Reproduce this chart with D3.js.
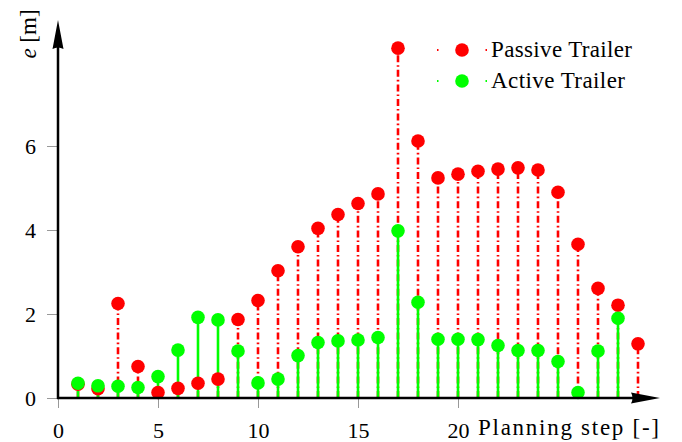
<!DOCTYPE html>
<html>
<head>
<meta charset="utf-8">
<script src="https://cdn.jsdelivr.net/npm/d3@7"></script>
<style>
  body { margin: 0; background: #fff; }
  svg text { font-family: "Liberation Serif", "Times New Roman", Times, serif !important; }
</style>
</head>
<body>
<script>
// planning steps and the two error series
var stepsPassive = d3.range(1, 30)
var passive = [0.33, 0.22, 2.25, 0.75, 0.13, 0.23, 0.35, 0.45, 1.87, 2.32,
               3.03, 3.60, 4.04, 4.37, 4.63, 4.86, 8.33, 6.12, 5.24, 5.33,
               5.40, 5.45, 5.48, 5.43, 4.90, 3.66, 2.61, 2.21, 1.29]
var stepsActive = d3.range(1, 29)
var active = [0.35, 0.29, 0.28, 0.25, 0.51, 1.14, 1.92, 1.86, 1.12, 0.36,
              0.45, 1.01, 1.32, 1.36, 1.38, 1.44, 3.98, 2.28, 1.40, 1.40,
              1.39, 1.25, 1.13, 1.13, 0.87, 0.13, 1.12, 1.90]
var xTicks = [0, 5, 10, 15, 20]
var yTicks = [0, 2, 4, 6]
var seriesNames = ["Passive Trailer", "Active Trailer"]

var red = "#ff0000", green = "#00ff00"
var W = 682, H = 442

var svg = d3.select("body").append("svg")
    .attr("width", W)
    .attr("height", H)

var x = d3.scaleLinear().domain([0, 30]).range([58, 658])
var y = d3.scaleLinear().domain([0, 9]).range([398, 20])

// ticks (gray little marks) with labels
var yAxis = svg.append("g")
    .attr("transform", "translate(" + x(0) + ",0)")
    .call(d3.axisLeft(y).tickValues(yTicks).tickSize(11).tickPadding(11))
yAxis.attr("font-family", null)
yAxis.select(".domain").remove()
yAxis.selectAll("line").attr("stroke", "#999").attr("stroke-width", 1)
yAxis.selectAll("text").attr("font-size", 22).attr("fill", "#000")

var xAxis = svg.append("g")
    .attr("transform", "translate(0," + y(0) + ")")
    .call(d3.axisBottom(x).tickValues(xTicks).tickSize(10).tickPadding(14))
xAxis.attr("font-family", null)
xAxis.select(".domain").remove()
xAxis.selectAll("line").attr("stroke", "#999").attr("stroke-width", 1)
xAxis.selectAll("text").attr("font-size", 22).attr("fill", "#000")

// stems
function stems(steps, vals, col, dash) {
    svg.append("g").selectAll("line")
        .data(steps)
        .enter().append("line")
        .attr("x1", function(d) { return x(d) })
        .attr("x2", function(d) { return x(d) })
        .attr("y1", y(0))
        .attr("y2", function(d, i) { return y(vals[i]) })
        .attr("stroke", col)
        .attr("stroke-width", 2.6)
        .attr("stroke-dasharray", dash)
}
function dots(steps, vals, col) {
    svg.append("g").selectAll("circle")
        .data(steps)
        .enter().append("circle")
        .attr("cx", function(d) { return x(d) })
        .attr("cy", function(d, i) { return y(vals[i]) })
        .attr("r", 6.8)
        .attr("fill", col)
}
stems(stepsPassive, passive, red, "7,3,1.6,3")
stems(stepsActive, active, green, null)
dots(stepsPassive, passive, red)
dots(stepsActive, active, green)

// axis lines with arrow heads
svg.append("line")
    .attr("x1", x(0)).attr("x2", x(0))
    .attr("y1", y(0) + 1).attr("y2", 40)
    .attr("stroke", "#000").attr("stroke-width", 2.5)
svg.append("path")
    .attr("d", "M" + x(0) + ",20 L" + (x(0) + 5.5) + ",49 Q" + x(0) + ",46 " + (x(0) - 5.5) + ",49 Z")
    .attr("fill", "#000")
svg.append("line")
    .attr("x1", x(0) - 1).attr("x2", 640)
    .attr("y1", y(0)).attr("y2", y(0))
    .attr("stroke", "#000").attr("stroke-width", 2.5)
svg.append("path")
    .attr("d", "M660," + y(0) + " L631," + (y(0) - 5.5) + " Q634," + y(0) + " 631," + (y(0) + 5.5) + " Z")
    .attr("fill", "#000")

// axis labels
svg.append("text")
    .attr("x", 478).attr("y", 435)
    .attr("font-size", 23)
    .attr("textLength", 181)
    .text("Planning step [-]")

var yl = svg.append("text")
    .attr("transform", "translate(36,34) rotate(-90)")
    .attr("text-anchor", "middle")
    .attr("font-size", 23)
yl.append("tspan").attr("font-style", "italic").text("e")
yl.append("tspan").text(" [m]")

// legend
var legCols = [red, green]
var legY = [50, 81]
var leg = svg.append("g").selectAll("g")
    .data(seriesNames)
    .enter().append("g")
    .attr("transform", function(d, i) { return "translate(0," + legY[i] + ")" })
leg.append("line")
    .attr("x1", 437).attr("x2", 487)
    .attr("stroke", function(d, i) { return legCols[i] })
    .attr("stroke-width", 2)
    .attr("stroke-dasharray", "1.5,47")
leg.append("circle")
    .attr("cx", 462).attr("r", 6.8)
    .attr("fill", function(d, i) { return legCols[i] })
leg.append("text")
    .attr("x", 491).attr("y", 7)
    .attr("font-size", 23)
    .attr("textLength", function(d, i) { return i == 0 ? 141 : 134 })
    .text(function(d) { return d })
</script>
</body>
</html>
